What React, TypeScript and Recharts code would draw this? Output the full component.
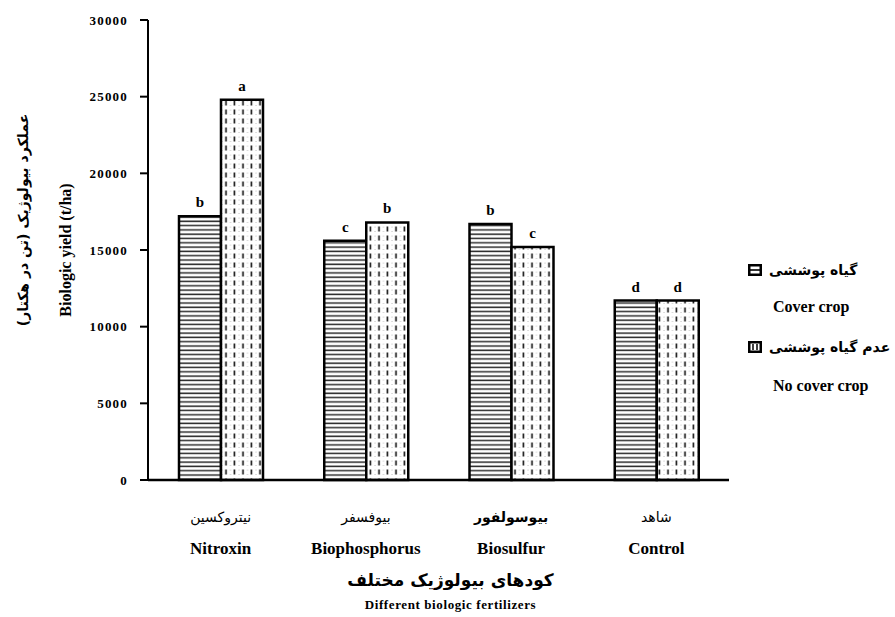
import { BarChart, Bar, XAxis, YAxis, Legend, LabelList } from 'recharts';

const categories = ['Nitroxin', 'Biophosphorus', 'Biosulfur', 'Control'];
const categoriesFa = ['نیتروکسین', 'بیوفسفر', 'بیوسولفور', 'شاهد'];
const coverCrop = [17200, 15600, 16700, 11700];
const noCoverCrop = [24800, 16800, 15200, 11700];
const coverLetters = ['b', 'c', 'b', 'd'];
const noCoverLetters = ['a', 'b', 'c', 'd'];
const yTicks = [0, 5000, 10000, 15000, 20000, 25000, 30000];

const serif = 'Liberation Serif, Tinos, Times New Roman, DejaVu Serif, serif';
const arabic = 'DejaVu Sans, sans-serif';

const chartData = categories.map((name, i) => ({
  name,
  cover: coverCrop[i],
  noCover: noCoverCrop[i],
  coverLetter: coverLetters[i],
  noCoverLetter: noCoverLetters[i],
}));

function CategoryTick(props: any) {
  const { x, y, payload } = props;
  const i = categories.indexOf(payload.value);
  return (
    <g>
      <text
        x={x}
        y={y + 42}
        textAnchor="middle"
        fontFamily={arabic}
        fontSize={14}
        fontWeight={i === 2 ? 'bold' : 'normal'}
        fill="#000"
      >
        {categoriesFa[i]}
      </text>
      <text x={x} y={y + 74} textAnchor="middle" fontFamily={serif} fontSize={17} fontWeight="bold" fill="#000">
        {payload.value}
      </text>
    </g>
  );
}

function XTitle(props: any) {
  const { viewBox } = props;
  const cx = viewBox.x + viewBox.width / 2 + 12;
  return (
    <g>
      <text x={cx} y={viewBox.y + 106} textAnchor="middle" fontFamily={arabic} fontSize={17} fontWeight="bold" fill="#000">
        کودهای بیولوژیک مختلف
      </text>
      <text x={cx} y={viewBox.y + 129} textAnchor="middle" fontFamily={serif} fontSize={13} fontWeight="bold" letterSpacing={0.6} fill="#000">
        Different biologic fertilizers
      </text>
    </g>
  );
}

function YTitle(props: any) {
  const { viewBox } = props;
  const cy = viewBox.y + viewBox.height / 2;
  return (
    <g>
      <text
        x={23}
        y={cy - 30}
        transform={`rotate(-90, 23, ${cy - 30})`}
        textAnchor="middle"
        dominantBaseline="central"
        fontFamily={arabic}
        fontSize={14}
        fontWeight="bold"
        fill="#000"
      >
        عملکرد بیولوژیک (تن در هکتار)
      </text>
      <text
        x={65}
        y={cy}
        transform={`rotate(-90, 65, ${cy})`}
        textAnchor="middle"
        dominantBaseline="central"
        fontFamily={serif}
        fontSize={16}
        fontWeight="bold"
        fill="#000"
      >
        Biologic yield (t/ha)
      </text>
    </g>
  );
}

function LegendIcon({ kind }: { kind: 'cover' | 'noCover' }) {
  return (
    <svg width={14} height={12} style={{ marginRight: 7, flexShrink: 0 }}>
      <rect x={1.25} y={1.25} width={11.5} height={9.5} fill="#fff" stroke="#000" strokeWidth={2.5} />
      {kind === 'cover' ? (
        <line x1={2} y1={6} x2={12} y2={6} stroke="#000" strokeWidth={1.6} />
      ) : (
        <>
          <line x1={5} y1={3} x2={5} y2={9} stroke="#000" strokeWidth={1.5} />
          <line x1={9} y1={3} x2={9} y2={9} stroke="#000" strokeWidth={1.5} />
        </>
      )}
    </svg>
  );
}

function LegendBox() {
  const fa = { fontFamily: arabic, fontSize: 14, fontWeight: 'bold' as const, color: '#000', whiteSpace: 'nowrap' as const };
  const en = { fontFamily: serif, fontSize: 16, fontWeight: 'bold' as const, color: '#000', paddingLeft: 25, whiteSpace: 'nowrap' as const };
  return (
    <div style={{ width: 145 }}>
      <div style={{ display: 'flex', alignItems: 'center', height: 24 }}>
        <LegendIcon kind="cover" />
        <span style={fa}>گیاه پوششی</span>
      </div>
      <div style={{ ...en, height: 24, lineHeight: '24px', marginTop: 13 }}>Cover crop</div>
      <div style={{ display: 'flex', alignItems: 'center', height: 24, marginTop: 16 }}>
        <LegendIcon kind="noCover" />
        <span style={fa}>عدم گیاه پوششی</span>
      </div>
      <div style={{ ...en, height: 24, lineHeight: '24px', marginTop: 15 }}>No cover crop</div>
    </div>
  );
}

export default function App() {
  return (
    <div style={{ position: 'absolute', left: 0, top: 0, width: 895, height: 617, background: '#fff' }}>
      <BarChart
        width={895}
        height={617}
        data={chartData}
        margin={{ top: 20, right: 166, bottom: 57, left: 88 }}
        barGap={0}
        barSize={42}
      >
        <defs>
          <pattern id="hLines" patternUnits="userSpaceOnUse" width={10} height={4.3}>
            <rect width={10} height={4.3} fill="#fff" />
            <line x1={0} y1={2} x2={10} y2={2} stroke="#2a2a2a" strokeWidth={1.5} />
          </pattern>
          <pattern id="vDashes" patternUnits="userSpaceOnUse" width={8.5} height={9}>
            <rect width={8.5} height={9} fill="#fff" />
            <circle cx={1} cy={2} r={0.5} fill="#aaa" />
            <circle cx={1} cy={6.5} r={0.5} fill="#aaa" />
            <line x1={5} y1={1.5} x2={5} y2={6.5} stroke="#111" strokeWidth={1.6} />
          </pattern>
        </defs>
        <XAxis
          dataKey="name"
          axisLine={{ stroke: '#000', strokeWidth: 2.5 }}
          tickLine={false}
          tickSize={0}
          tickMargin={0}
          height={80}
          interval={0}
          tick={<CategoryTick />}
          label={<XTitle />}
        />
        <YAxis
          domain={[0, 30000]}
          ticks={yTicks}
          width={60}
          tickSize={8}
          tickMargin={12}
          axisLine={{ stroke: '#000', strokeWidth: 2 }}
          tickLine={{ stroke: '#000', strokeWidth: 2 }}
          tick={{ fill: '#000', fontFamily: serif, fontSize: 13, fontWeight: 'bold', letterSpacing: 1.2 }}
          label={<YTitle />}
        />
        <Legend
          layout="vertical"
          align="center"
          verticalAlign="middle"
          content={() => <LegendBox />}
          wrapperStyle={{ left: 748, top: 258, width: 145, height: 150 }}
        />
        <Bar dataKey="cover" name="Cover crop" fill="url(#hLines)" stroke="#000" strokeWidth={2.5} isAnimationActive={false}>
          <LabelList dataKey="coverLetter" position="top" offset={9} fill="#000" fontFamily={serif} fontSize={15} fontWeight="bold" />
        </Bar>
        <Bar dataKey="noCover" name="No cover crop" fill="url(#vDashes)" stroke="#000" strokeWidth={2.5} isAnimationActive={false}>
          <LabelList dataKey="noCoverLetter" position="top" offset={9} fill="#000" fontFamily={serif} fontSize={15} fontWeight="bold" />
        </Bar>
      </BarChart>
    </div>
  );
}
